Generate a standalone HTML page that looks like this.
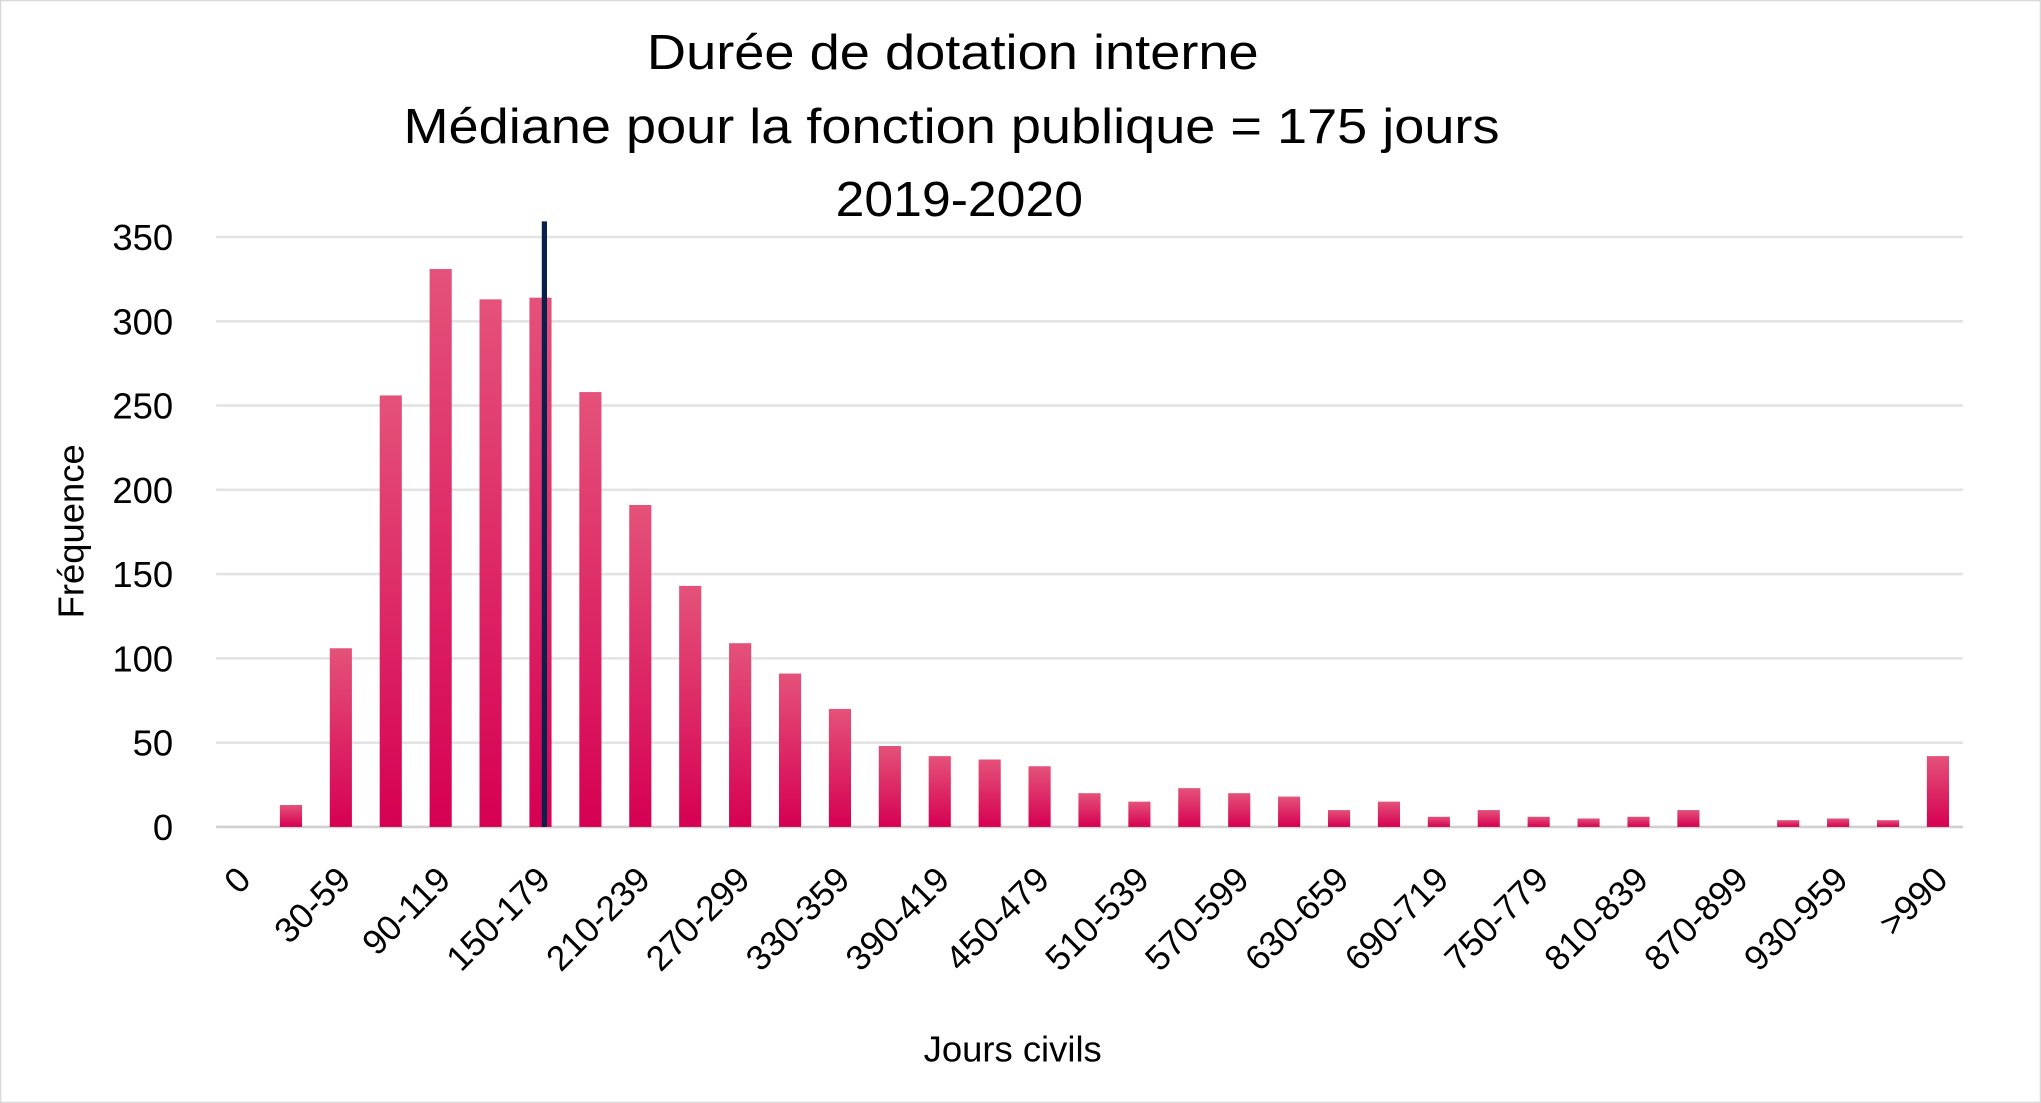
<!DOCTYPE html>
<html><head><meta charset="utf-8"><style>
html,body{margin:0;padding:0;background:#fff;}
svg{display:block;}
text{font-family:"Liberation Sans",sans-serif;fill:#000;}
</style></head><body>
<svg id="chart" width="2041" height="1103" viewBox="0 0 1568 847" preserveAspectRatio="none" xmlns="http://www.w3.org/2000/svg">
<defs><linearGradient id="bg" x1="0" y1="0" x2="0" y2="1"><stop offset="0" stop-color="#e4527a"/><stop offset="1" stop-color="#d60052"/></linearGradient></defs>
<rect x="0.5" y="0.5" width="1567" height="846" fill="#fff" stroke="#d9d9d9"/>
<g>
<text x="497" y="53" font-size="38" textLength="470" lengthAdjust="spacingAndGlyphs">Durée de dotation interne</text>
<text x="310" y="110" font-size="38" textLength="842" lengthAdjust="spacingAndGlyphs">Médiane pour la fonction publique = 175 jours</text>
<text x="642" y="166" font-size="38" textLength="190" lengthAdjust="spacingAndGlyphs">2019-2020</text>
</g>
<g id="grid"></g><g id="bars"></g><g id="xlabels"></g><g id="ylabels"></g>
<text x="0" y="0" font-size="28" text-anchor="middle" transform="translate(64,408) rotate(-90)">Fréquence</text>
<text x="778" y="815" font-size="28" text-anchor="middle">Jours civils</text>
</svg>
<script>
const categories=["0","1-29","30-59","60-89","90-119","120-149","150-179","180-209","210-239","240-269","270-299","300-329","330-359","360-389","390-419","420-449","450-479","480-509","510-539","540-569","570-599","600-629","630-659","660-689","690-719","720-749","750-779","780-809","810-839","840-869","870-899","900-929","930-959","960-989",">990"];
const values=[0,13,106,256,331,313,314,258,191,143,109,91,70,48,42,40,36,20,15,23,20,18,10,15,6,10,6,5,6,10,0,4,5,4,42];
const yTicks=[0,50,100,150,200,250,300,350];
const medianCategoryIndex=6;
const L=166,R=1508,T=182,B=635,yMax=350;
const NS="http://www.w3.org/2000/svg";
const step=(R-L)/categories.length;
const xC=i=>L+(i+0.5)*step;
const y=v=>B-(v/yMax)*(B-T);
function mk(tag,attrs,parent){const e=document.createElementNS(NS,tag);for(const k in attrs)e.setAttribute(k,attrs[k]);parent.appendChild(e);return e;}
const grid=document.getElementById('grid'),ylab=document.getElementById('ylabels');
yTicks.forEach(t=>{
  const l=mk('line',{x1:L,x2:R,y1:y(t),y2:y(t),stroke:t===0?'#d0d0d0':'#e3e3e3','stroke-width':2},grid);
  
  
  const tx=mk('text',{x:133,y:y(t)+10,'font-size':28,'text-anchor':'end'},ylab);
  tx.textContent=t;
  
  
});
const bars=document.getElementById('bars'),xl=document.getElementById('xlabels');
values.forEach((v,i)=>{
  const r=mk('rect',{x:xC(i)-8.5,y:y(v),width:17,height:B-y(v),fill:'url(#bg)'},bars);
  
  
  if(i%2===0){
    const tx=mk('text',{x:0,y:0,'font-size':27,'text-anchor':'end',transform:`translate(${xC(i)+9},${B+42}) rotate(-45)`},xl);
    tx.textContent=categories[i];
    
    
  }
});
const mx=xC(medianCategoryIndex)+3;
const ml=mk('line',{x1:mx,x2:mx,y1:170,y2:B,stroke:'#0b1f4d','stroke-width':4},bars);


</script>
</body></html>
